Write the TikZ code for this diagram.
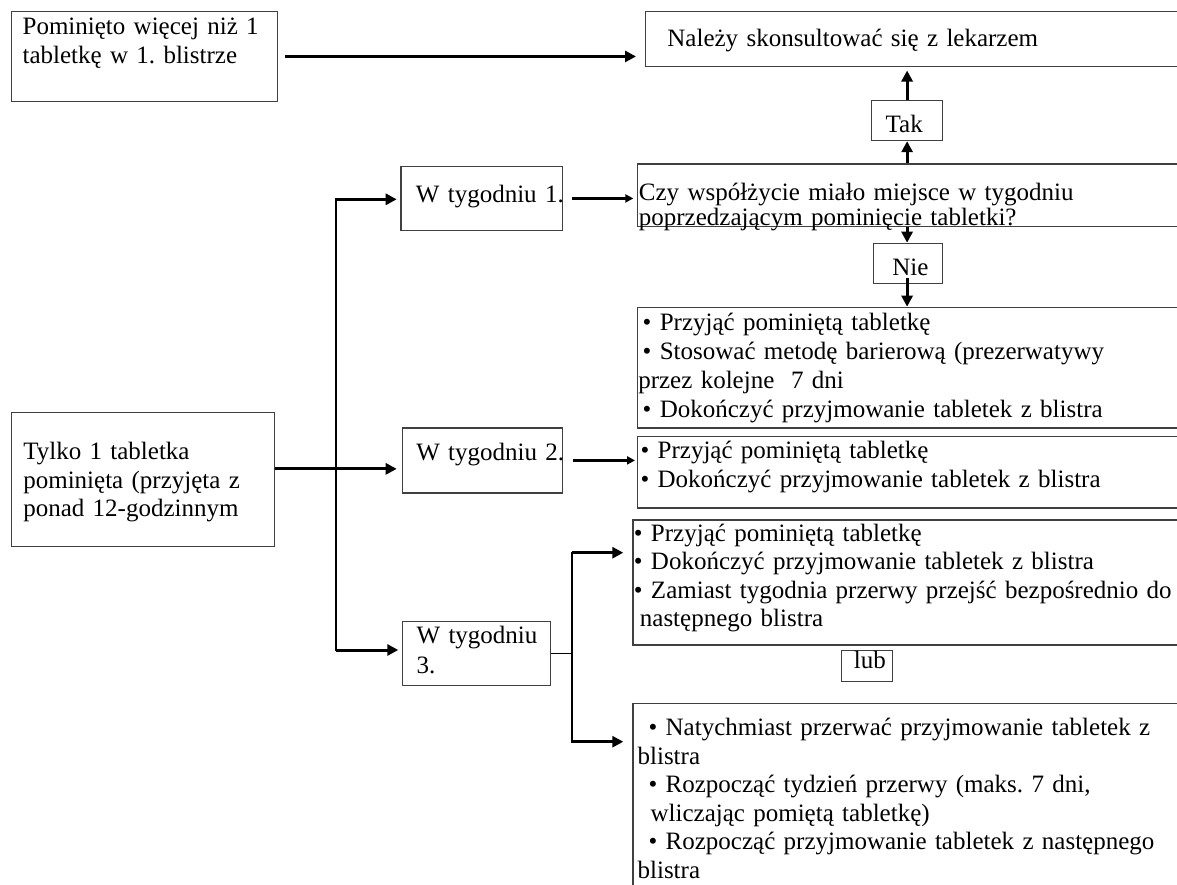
\documentclass[tikz,border=0pt]{standalone}
\usepackage{fontspec}
\setmainfont{Liberation Serif}
\usetikzlibrary{arrows.meta,calc}
\begin{document}
\begin{tikzpicture}[x=1pt, y=-1pt,
  box/.style={rectangle, draw=black!75, line width=1.2pt, anchor=north west, inner sep=0pt, font=\fontsize{25}{#1}\selectfont\frenchspacing},
  box/.default=28.5,
  pad/.style={execute at begin node={\leftskip=#1pt}},
  arr/.style={->, >={Triangle[length=11pt,width=11pt]}, line width=3pt},
  smallarr/.style={->, >={Triangle[length=8pt,width=8pt]}, line width=2.2pt},
  trunk/.style={line width=2.3pt, line cap=rect}]
\useasboundingbox (0,0) rectangle (1177,884);
\clip (0,0) rectangle (1177,884);
\node[box=29, pad=11.3, text width=266pt, text height=23.3pt, text depth=67pt] (a) at (10.7,10.7) {Pominięto więcej niż 1\\tabletkę w 1. blistrze};
\node[box, pad=21.8, text width=600pt, text height=35pt, text depth=20pt] (k) at (645,10.7) {Należy skonsultować się z lekarzem};
\node[box, pad=14, text width=71pt, text height=31.7pt, text depth=8.3pt] (tak) at (871,100) {Tak};
\node[box=24.5, pad=1.6, text width=600pt, text height=36.7pt, text depth=25.7pt] (q) at (636.7,163.3) {Czy współżycie miało miejsce w tygodniu\\poprzedzającym pominięcie tabletki?};
\node[box, pad=18.7, text width=69pt, text height=32.3pt, text depth=8pt] (nie) at (873,242.7) {Nie};
\node[box, pad=15, text width=161.4pt, text height=36pt, text depth=28.3pt] (w1) at (400.3,165.7) {\mbox{W tygodniu 1.}};
\node[box=29, pad=1, text width=600pt, text height=23.3pt, text depth=97.3pt] (b1) at (636.7,306.7) {\hspace*{4.4pt}• Przyjąć pominiętą tabletkę\\\hspace*{4.4pt}• Stosować metodę barierową (prezerwatywy\\przez kolejne~ 7 dni\\\hspace*{4.4pt}• Dokończyć przyjmowanie tabletek z blistra};
\node[box, pad=12, text width=263.3pt, text height=47.3pt, text depth=87pt] (tylko) at (10.7,411.7) {Tylko 1 tabletka\\pominięta (przyjęta z\\ponad 12-godzinnym};
\node[box, pad=14, text width=160pt, text height=33pt, text depth=32pt] (w2) at (401.7,427.3) {\mbox{W tygodniu 2.}};
\node[box=28.4, pad=3.3, text width=600pt, text height=22.3pt, text depth=49pt] (b2) at (636.7,436) {• Przyjąć pominiętą tabletkę\\• Dokończyć przyjmowanie tabletek z blistra};
\node[box=28.4, pad=1, text width=600pt, text height=21.4pt, text depth=103.6pt] (b3a) at (632.3,519.3) {• Przyjąć pominiętą tabletkę\\• Dokończyć przyjmowanie tabletek z blistra\\• Zamiast tygodnia przerwy przejść bezpośrednio do\\\hspace*{6pt}następnego blistra};
\node[box=29.4, pad=14.3, text width=148.3pt, text height=22.6pt, text depth=41.7pt] (w3) at (401.7,620.7) {W tygodniu\\3.};
\node[box, pad=12.3, text width=50.7pt, text height=18.3pt, text depth=12.4pt] (lub) at (841,650) {lub};
\node[box, pad=4.7, text width=600pt, text height=32.3pt, text depth=200pt] (b3b) at (632.3,702.7) {\hspace*{11pt}• Natychmiast przerwać przyjmowanie tabletek z\\blistra\\\hspace*{11pt}• Rozpocząć tydzień przerwy (maks. 7 dni,\\\hspace*{13pt}wliczając pomiętą tabletkę)\\\hspace*{11pt}• Rozpocząć przyjmowanie tabletek z następnego\\blistra};
\draw[arr] ([xshift=7pt]a.east) -- ($(a.east -| k.west)-(9,0)$);
\draw[arr] (tak.north) -- ($(tak.north |- k.south)+(0,3.6)$);
\draw[arr] (tak.south |- q.north) -- (tak.south);
\draw[arr] (tak.south |- q.south) -- (tak.south |- nie.north);
\draw[arr] ($(tak.south |- nie.south)-(0,6)$) -- (tak.south |- b1.north);
\draw[smallarr] ([xshift=9.3pt]w1.east) -- ($(w1.east -| q.west)-(3.4,0)$);
\coordinate (s1) at (336,199.3);
\coordinate (s3) at (336,650);
\draw[trunk] (s1) -- (s3);
\draw[arr, shorten >=3.6pt] (s1) -- (s1 -| w1.west);
\draw[arr, shorten >=3.4pt] (s3) -- (s3 -| w3.west);
\coordinate (t2) at ([yshift=10.6pt]tylko.east);
\draw[arr, shorten >=5pt] (t2) -- (t2 -| w2.west);
\draw[smallarr] ([xshift=10pt]w2.east) -- ($(w2.east -| b2.west)-(1.7,0)$);
\coordinate (f1) at (571.7,552.7);
\coordinate (f2) at (571.7,741.7);
\draw[line width=1.2pt] (w3.east) -- (w3.east -| f1);
\draw[trunk] (f1) -- (f2);
\draw[arr, shorten >=9pt] (f1) -- (f1 -| b3a.west);
\draw[arr, shorten >=9pt] (f2) -- (f2 -| b3b.west);
\end{tikzpicture}
\end{document}
